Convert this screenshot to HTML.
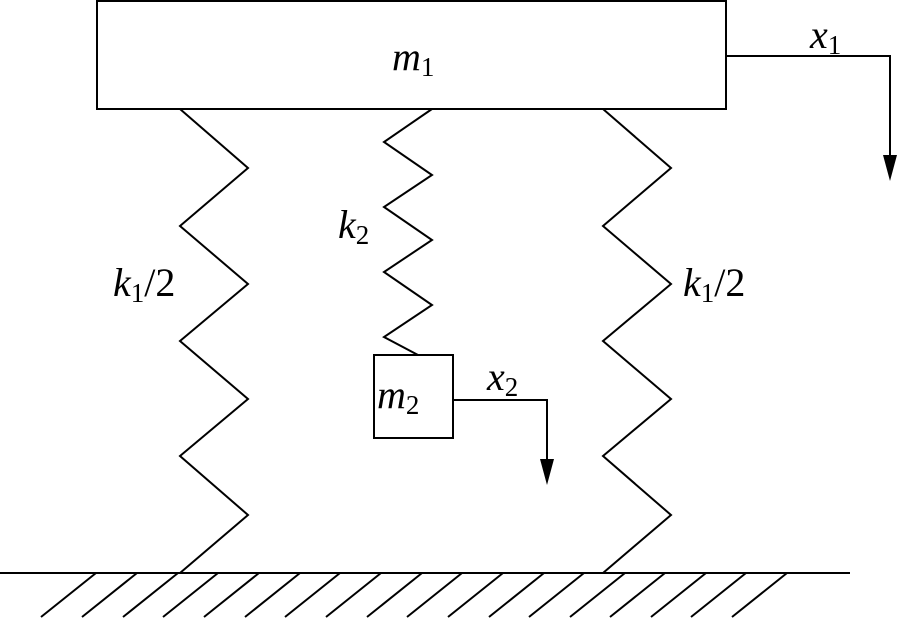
<!DOCTYPE html>
<html><head><meta charset="utf-8"><style>html,body{margin:0;padding:0;background:#fff}
body{position:relative;width:900px;height:618px;overflow:hidden}
svg{position:absolute;left:0;top:0}
.t{position:absolute;font-family:"Liberation Serif",serif;font-size:40px;line-height:40px;color:#000;white-space:nowrap}
.t i{font-style:italic}
.t sub{font-size:27px;vertical-align:-6px;line-height:0}
</style></head>
<body>
<svg width="900" height="618" viewBox="0 0 900 618" xmlns="http://www.w3.org/2000/svg">
<g fill="none" stroke="#000" stroke-width="2">
<rect x="97" y="1" width="629" height="108"/>
<rect x="374" y="355" width="79" height="83"/>
<polyline points="180,109 248,168 180,226 248,284 180,341 248,399 180,456 248,515 180,573"/>
<polyline points="603,109 671,168 603,226 671,284 603,341 671,399 603,456 671,515 603,573"/>
<polyline points="432,109 384,142 432,175 384,207 432,240 384,272 432,305 384,337 418,355"/>
<polyline points="726,56 890,56 890,160"/>
<polyline points="453,400 547,400 547,462"/>
<line x1="0" y1="573" x2="850" y2="573"/>
<line x1="96" y1="573" x2="41" y2="617"/><line x1="137" y1="573" x2="82" y2="617"/><line x1="178" y1="573" x2="123" y2="617"/><line x1="218" y1="573" x2="163" y2="617"/><line x1="259" y1="573" x2="204" y2="617"/><line x1="300" y1="573" x2="245" y2="617"/><line x1="340" y1="573" x2="285" y2="617"/><line x1="381" y1="573" x2="326" y2="617"/><line x1="422" y1="573" x2="367" y2="617"/><line x1="462" y1="573" x2="407" y2="617"/><line x1="503" y1="573" x2="448" y2="617"/><line x1="544" y1="573" x2="489" y2="617"/><line x1="584" y1="573" x2="529" y2="617"/><line x1="625" y1="573" x2="570" y2="617"/><line x1="665" y1="573" x2="610" y2="617"/><line x1="706" y1="573" x2="651" y2="617"/><line x1="746" y1="573" x2="691" y2="617"/><line x1="787" y1="573" x2="732" y2="617"/>
</g>
<polygon points="883,155 897,155 890,181" fill="#000"/>
<polygon points="540,459 554,459 547,485" fill="#000"/>
</svg>
<div class="t" style="left:392px;top:37px"><i>m</i><sub>1</sub></div>
<div class="t" style="left:810px;top:15px"><i>x</i><sub>1</sub></div>
<div class="t" style="left:377px;top:375px"><i>m</i><sub>2</sub></div>
<div class="t" style="left:487px;top:357px"><i>x</i><sub>2</sub></div>
<div class="t" style="left:338px;top:205px"><i>k</i><sub>2</sub></div>
<div class="t" style="left:113px;top:263px"><i>k</i><sub>1</sub>/2</div>
<div class="t" style="left:683px;top:263px"><i>k</i><sub>1</sub>/2</div>
</body></html>
